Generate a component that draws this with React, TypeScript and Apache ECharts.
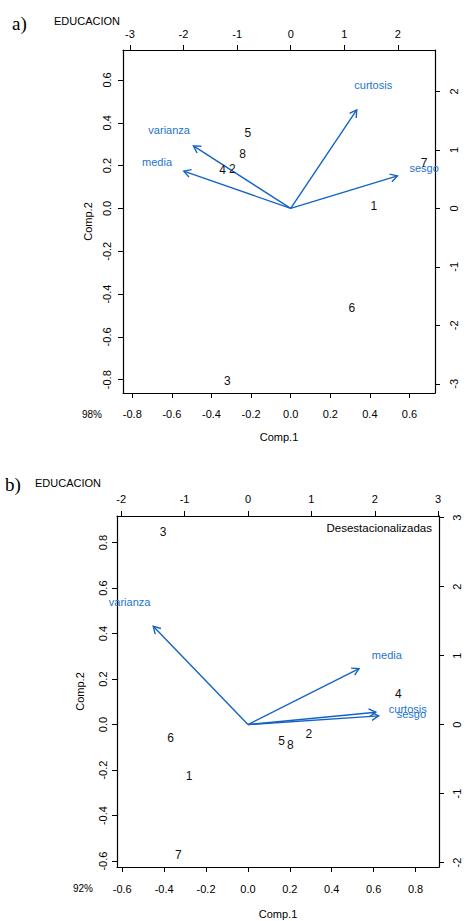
import React, { useEffect, useRef } from "react";
import * as echarts from "echarts";

// ---------- data ----------
const OBS_LABELS = ["1", "2", "3", "4", "5", "6", "7", "8"];
const VAR_LABELS_A = ["media", "varianza", "sesgo", "curtosis"];
const VAR_LABELS_B = ["media", "varianza", "sesgo", "curtosis"];

// panel a) scores (top / right axes)
const SCORE_A_X = [1.55, -1.09, -1.18, -1.27, -0.8, 1.14, 2.49, -0.9];
const SCORE_A_Y = [0.04, 0.68, -2.95, 0.66, 1.29, -1.71, 0.77, 0.94];
// panel a) loadings (bottom / left axes)
const LOAD_A_X = [-0.675, -0.614, 0.674, 0.417];
const LOAD_A_Y = [0.218, 0.365, 0.19, 0.575];

// panel b) scores
const SCORE_B_X = [-0.93, 0.96, -1.34, 2.37, 0.53, -1.22, -1.1, 0.67];
const SCORE_B_Y = [-0.745, -0.13, 2.79, 0.45, -0.24, -0.2, -1.89, -0.3];
// panel b) loadings
const LOAD_B_X = [0.663, -0.565, 0.78, 0.763];
const LOAD_B_Y = [0.308, 0.54, 0.048, 0.068];

// tick labels
const TICKS_A_BOTTOM = [-0.8, -0.6, -0.4, -0.2, 0, 0.2, 0.4, 0.6];
const TICKS_A_LEFT = [-0.8, -0.6, -0.4, -0.2, 0, 0.2, 0.4, 0.6];
const TICKS_A_TOP = [-3, -2, -1, 0, 1, 2];
const TICKS_A_RIGHT = [-3, -2, -1, 0, 1, 2];
const TICKS_B_BOTTOM = [-0.6, -0.4, -0.2, 0, 0.2, 0.4, 0.6, 0.8];
const TICKS_B_LEFT = [-0.6, -0.4, -0.2, 0, 0.2, 0.4, 0.6, 0.8];
const TICKS_B_TOP = [-2, -1, 0, 1, 2, 3];
const TICKS_B_RIGHT = [-2, -1, 0, 1, 2, 3];

const ARROW_SCALE = 0.8; // R biplot draws arrows to 0.8 of loading

// ---------- style ----------
const FONT = "'Liberation Sans', Arial, sans-serif";
const ARROW_COLOR = "#1463c4";
const VAR_TEXT_COLOR = "#2374d0";
const AXIS_COLOR = "#000";

const fmt1 = (v: number) => (Math.abs(v) < 1e-9 ? "0.0" : v.toFixed(1));
const fmt0 = (v: number) => String(Math.round(v));

function xAxisCfg(grid: number, pos: "top" | "bottom", min: number, max: number, ticks: number[], f: (v: number) => string, margin: number, name?: string, nameGap?: number) {
  return {
    type: "value",
    gridIndex: grid,
    position: pos,
    min,
    max,
    name: name || "",
    nameLocation: "middle",
    nameGap: nameGap || 0,
    nameTextStyle: { color: AXIS_COLOR, fontSize: 11, fontFamily: FONT },
    axisLine: { show: true, onZero: false, lineStyle: { color: AXIS_COLOR, width: 1.2 } },
    axisTick: { show: true, inside: false, length: 5, customValues: ticks, lineStyle: { color: AXIS_COLOR, width: 1 } },
    axisLabel: { show: true, customValues: ticks, formatter: f, margin, color: AXIS_COLOR, fontSize: 11, fontFamily: FONT },
    splitLine: { show: false },
  };
}

function yAxisCfg(grid: number, pos: "left" | "right", min: number, max: number, ticks: number[], f: (v: number) => string, margin: number, name?: string, nameGap?: number) {
  return {
    type: "value",
    gridIndex: grid,
    position: pos,
    min,
    max,
    name: name || "",
    nameLocation: "middle",
    nameGap: nameGap || 0,
    nameRotate: 90,
    nameTextStyle: { color: AXIS_COLOR, fontSize: 11, fontFamily: FONT },
    axisLine: { show: true, onZero: false, lineStyle: { color: AXIS_COLOR, width: 1.2 } },
    axisTick: { show: true, inside: false, length: 5, customValues: ticks, lineStyle: { color: AXIS_COLOR, width: 1 } },
    axisLabel: { show: true, customValues: ticks, formatter: f, margin, rotate: 90, color: AXIS_COLOR, fontSize: 11, fontFamily: FONT },
    splitLine: { show: false },
  };
}

function arrowSeries(xi: number, yi: number, lx: number[], ly: number[]) {
  return {
    type: "custom",
    coordinateSystem: "cartesian2d",
    xAxisIndex: xi,
    yAxisIndex: yi,
    clip: false,
    silent: true,
    data: lx.map((x, i) => [x, ly[i]]),
    renderItem: (_p: any, api: any) => {
      const x = api.value(0);
      const y = api.value(1);
      const o = api.coord([0, 0]);
      const t = api.coord([x * ARROW_SCALE, y * ARROW_SCALE]);
      const ang = Math.atan2(t[1] - o[1], t[0] - o[0]);
      const L = 8;
      const A = Math.PI / 6;
      const h1 = [t[0] - L * Math.cos(ang - A), t[1] - L * Math.sin(ang - A)];
      const h2 = [t[0] - L * Math.cos(ang + A), t[1] - L * Math.sin(ang + A)];
      return {
        type: "group",
        children: [
          { type: "line", shape: { x1: o[0], y1: o[1], x2: t[0], y2: t[1] }, style: { stroke: ARROW_COLOR, lineWidth: 1.4, fill: null } },
          { type: "polyline", shape: { points: [h1, t, h2] }, style: { stroke: ARROW_COLOR, lineWidth: 1.4, fill: null } },
        ],
      };
    },
  };
}

function labelSeries(xi: number, yi: number, xs: number[], ys: number[], names: string[], color: string, size: number) {
  return {
    type: "scatter",
    xAxisIndex: xi,
    yAxisIndex: yi,
    silent: true,
    symbol: "circle",
    symbolSize: 0,
    itemStyle: { color, opacity: 0 },
    data: xs.map((x, i) => ({ name: names[i], value: [x, ys[i]] })),
    label: {
      show: true,
      position: "inside",
      formatter: (p: any) => p.name,
      color,
      opacity: 1,
      textBorderWidth: 0,
      textBorderColor: "transparent",
      fontSize: size,
      fontFamily: FONT,
    },
  };
}

function txt(x: number, y: number, text: string, font: string, align: string, color = "#000") {
  return {
    type: "text",
    x,
    y,
    silent: true,
    style: { text, font, fill: color, align, verticalAlign: "middle", textAlign: align, textVerticalAlign: "middle" },
  };
}

export default function App() {
  const ref = useRef<HTMLDivElement>(null);

  useEffect(() => {
    if (!ref.current) return;
    const chart = echarts.init(ref.current, null, { renderer: "svg" });
    const option: any = {
      animation: false,
      backgroundColor: "#fff",
      grid: [
        { left: 123, top: 50, width: 312, height: 343 },
        { left: 117, top: 516, width: 322, height: 351 },
      ],
      xAxis: [
        xAxisCfg(0, "bottom", -0.847, 0.729, TICKS_A_BOTTOM, fmt1, 15, "Comp.1", 38),
        xAxisCfg(0, "top", -3.129, 2.692, TICKS_A_TOP, fmt0, 11),
        xAxisCfg(1, "bottom", -0.625, 0.912, TICKS_B_BOTTOM, fmt1, 16, "Comp.1", 41),
        xAxisCfg(1, "top", -2.066, 3.013, TICKS_B_TOP, fmt0, 12),
      ],
      yAxis: [
        yAxisCfg(0, "left", -0.862, 0.74, TICKS_A_LEFT, fmt1, 11, "Comp.2", 29),
        yAxisCfg(0, "right", -3.158, 2.711, TICKS_A_RIGHT, fmt0, 13),
        yAxisCfg(1, "left", -0.626, 0.917, TICKS_B_LEFT, fmt1, 9, "Comp.2", 32),
        yAxisCfg(1, "right", -2.064, 3.023, TICKS_B_RIGHT, fmt0, 12),
      ],
      series: [
        arrowSeries(0, 0, LOAD_A_X, LOAD_A_Y),
        labelSeries(0, 0, LOAD_A_X, LOAD_A_Y, VAR_LABELS_A, VAR_TEXT_COLOR, 11),
        labelSeries(1, 1, SCORE_A_X, SCORE_A_Y, OBS_LABELS, "#111", 12),
        arrowSeries(2, 2, LOAD_B_X, LOAD_B_Y),
        labelSeries(2, 2, LOAD_B_X, LOAD_B_Y, VAR_LABELS_B, VAR_TEXT_COLOR, 11),
        labelSeries(3, 3, SCORE_B_X, SCORE_B_Y, OBS_LABELS, "#111", 12),
      ],
      graphic: [
        txt(12, 23, "a)", "19px 'Liberation Serif', 'Times New Roman', serif", "left"),
        txt(54, 21, "EDUCACION", `11px ${FONT}`, "left"),
        txt(92, 414, "98%", `10px ${FONT}`, "center"),
        txt(5, 484, "b)", "19px 'Liberation Serif', 'Times New Roman', serif", "left"),
        txt(35, 483, "EDUCACION", `11px ${FONT}`, "left"),
        txt(83, 888, "92%", `10px ${FONT}`, "center"),
        txt(432, 528, "Desestacionalizadas", `11.5px ${FONT}`, "right"),
      ],
    };
    chart.setOption(option);
    return () => chart.dispose();
  }, []);

  return (
    <div
      ref={ref}
      style={{ position: "fixed", left: 0, top: 0, width: 467, height: 921, background: "#fff" }}
    />
  );
}
